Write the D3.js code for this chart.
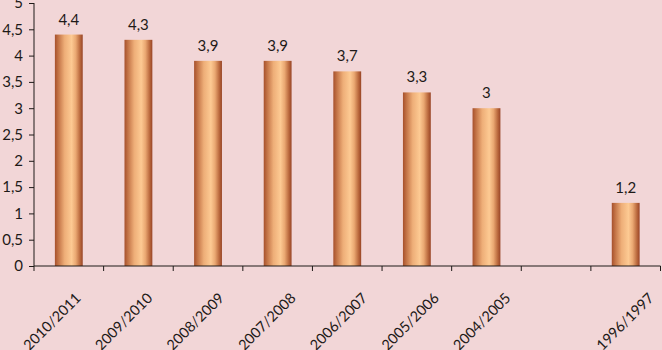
<!DOCTYPE html>
<html>
<head>
<meta charset="utf-8">
<script src="https://cdn.jsdelivr.net/npm/d3@7"></script>
<style>
  html, body { margin: 0; padding: 0; background: #f2d6d7; }
  svg { display: block; }
  text { font-family: Lato, "Open Sans", sans-serif; fill: #1e1a18; }
</style>
</head>
<body>
<svg id="svg" width="662" height="350"></svg>
<script>
// academic years, newest first; the gap is an empty slot in the original
const years = ["2010/2011", "2009/2010", "2008/2009", "2007/2008", "2006/2007", "2005/2006", "2004/2005", "", "1996/1997"];
const values = [4.4, 4.3, 3.9, 3.9, 3.7, 3.3, 3, null, 1.2];
const yTicks = [0, 0.5, 1, 1.5, 2, 2.5, 3, 3.5, 4, 4.5, 5];

const comma = d => String(d).replace(".", ",");

const svg = d3.select("#svg");
const margin = { left: 34, top: 3, right: 1.5, bottom: 84 };
const width = 662, height = 350;

const slots = years.map((y, i) => "slot" + i);
const rows = slots.map((s, i) => ({ slot: s, year: years[i], value: values[i], i: i }));

const x = d3.scaleBand()
  .domain(slots)
  .range([margin.left, width - margin.right])
  .paddingInner(0.6)
  .paddingOuter(0.3);

const y = d3.scaleLinear()
  .domain([0, 5])
  .range([height - margin.bottom, margin.top]);

// cylinder look
const grad = svg.append("defs").append("linearGradient")
  .attr("id", "bar").attr("x1", 0).attr("x2", 1).attr("y1", 0).attr("y2", 0);
[[0, "#a6502c"], [0.12, "#c27245"], [0.35, "#eeae78"], [0.6, "#fdca93"], [0.75, "#eaa872"], [0.9, "#bb6a3e"], [1, "#984426"]]
  .forEach(s => grad.append("stop").attr("offset", s[0]).attr("stop-color", s[1]));

const bars = rows.filter(d => d.value != null);

svg.append("g").selectAll("rect")
  .data(bars)
  .enter().append("rect")
    .attr("x", d => x(d.slot))
    .attr("width", x.bandwidth())
    .attr("y", d => y(d.value))
    .attr("height", d => y(0) - y(d.value))
    .attr("fill", "url(#bar)");

svg.append("g").selectAll("text")
  .data(bars)
  .enter().append("text")
    .attr("x", d => x(d.slot) + x.bandwidth() / 2)
    .attr("y", d => y(d.value) - 10)
    .attr("text-anchor", "middle")
    .style("font-size", "15px")
    .text(d => comma(d.value));

// y axis
const yAxis = svg.append("g")
  .attr("transform", "translate(" + margin.left + ",0)")
  .call(d3.axisLeft(y).tickValues(yTicks).tickSize(5).tickPadding(6).tickFormat(comma));
yAxis.selectAll("text").style("font-size", "15px").style("font-family", "Lato, sans-serif").attr("fill", "#1e1a18");
yAxis.selectAll("line, path").attr("stroke", "#1e1a18");
yAxis.select(".domain").attr("d", "M0," + y(5) + "V" + y(0));

// x axis: ticks between categories
const step = x.step();
const edges = d3.range(slots.length + 1).map(i => x(slots[0]) - step * 0.3 + step * i);
const xg = svg.append("g");
xg.append("line")
  .attr("x1", margin.left).attr("x2", width - margin.right)
  .attr("y1", y(0)).attr("y2", y(0))
  .attr("stroke", "#1e1a18");
xg.selectAll(".tick")
  .data(edges)
  .enter().append("line")
    .attr("x1", d => d).attr("x2", d => d)
    .attr("y1", y(0)).attr("y2", y(0) + 5)
    .attr("stroke", "#1e1a18");

// labels drift slightly right across the axis in the original
xg.selectAll(".lbl")
  .data(rows.filter(d => d.year))
  .enter().append("text")
    .attr("transform", d => "translate(" + (x(d.slot) + x.bandwidth() / 2 + 13 + d.i * 2) + "," + (y(0) + 33) + ") rotate(-45)")
    .attr("text-anchor", "end")
    .style("font-size", "14.5px")
    .text(d => d.year);
</script>
</body>
</html>
